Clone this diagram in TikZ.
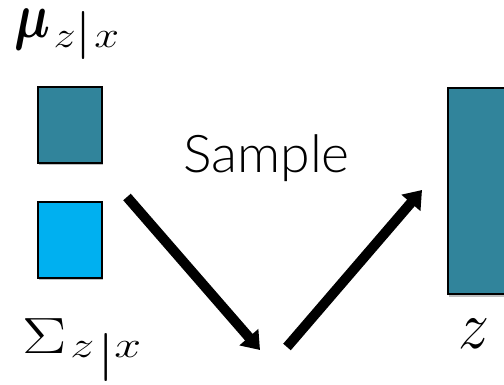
\RequirePackage{fix-cm}
\documentclass[tikz,border=0pt]{standalone}
\usepackage{amsmath}
\usepackage{fontspec}
\newfontfamily\samplefont{Lato Light}
\usetikzlibrary{arrows.meta,shadows}
\definecolor{tealbox}{HTML}{31849B}
\definecolor{cyanbox}{HTML}{00B0F0}
\newcommand{\subfont}{\fontsize{37}{40}\selectfont}
\newcommand{\barfont}{\fontsize{48}{50}\selectfont}
\begin{document}
\begin{tikzpicture}[x=1pt,y=-1pt,
  box/.style={draw=black, line width=2pt, inner sep=0pt, anchor=north west,
    drop shadow={shadow xshift=0.5pt, shadow yshift=-2.5pt, opacity=0.25, fill=black}},
  bigarrow/.style={line width=10pt, -{Triangle[length=17pt,width=24pt]}},
  mathlabel/.style={inner sep=0pt},
]
\useasboundingbox (0,0) rectangle (504,385);
\node[box, fill=tealbox, minimum width=64pt, minimum height=76pt] (mu) at (37,86) {};
\node[box, fill=cyanbox, minimum width=64pt, minimum height=76pt] (sigma) at (37,201) {};
\node[box, fill=tealbox, minimum width=90pt, minimum height=206pt] (zrect) at (447,87) {};
\node[mathlabel, anchor=base west, xscale=1.2, font=\fontsize{50}{60}\selectfont] (mulabel) at (14,38)
  {\scalebox{0.66}[1]{\fontsize{64}{70}\selectfont$\boldsymbol{\mu}$}\kern3pt\raisebox{-10pt}{\subfont$z\mbox{\barfont$|$}\kern2pt x$}};
\node[mathlabel, anchor=base west, xscale=1.3, font=\fontsize{51}{60}\selectfont] (sigmalabel) at (22,353)
  {$\Sigma$\kern3pt\raisebox{-4pt}{\subfont$z\kern2pt\mbox{\barfont\raisebox{-12pt}{$|$}}x$}};
\node[mathlabel, anchor=base, yscale=1.1, font=\fontsize{62}{70}\selectfont] (zlabel) at (474,348) {$z$};
\node[inner sep=0pt, anchor=base west, xscale=1.03, font=\samplefont\fontsize{52}{60}\selectfont] (sample) at (183,173) {Sample};
\coordinate (a1s) at (127,197);
\coordinate (a1e) at (260,350);
\coordinate (a2s) at (287,347);
\coordinate (a2e) at (422,190);
\draw[bigarrow] (a1s) -- (a1e);
\draw[bigarrow] (a2s) -- (a2e);
\end{tikzpicture}
\end{document}
